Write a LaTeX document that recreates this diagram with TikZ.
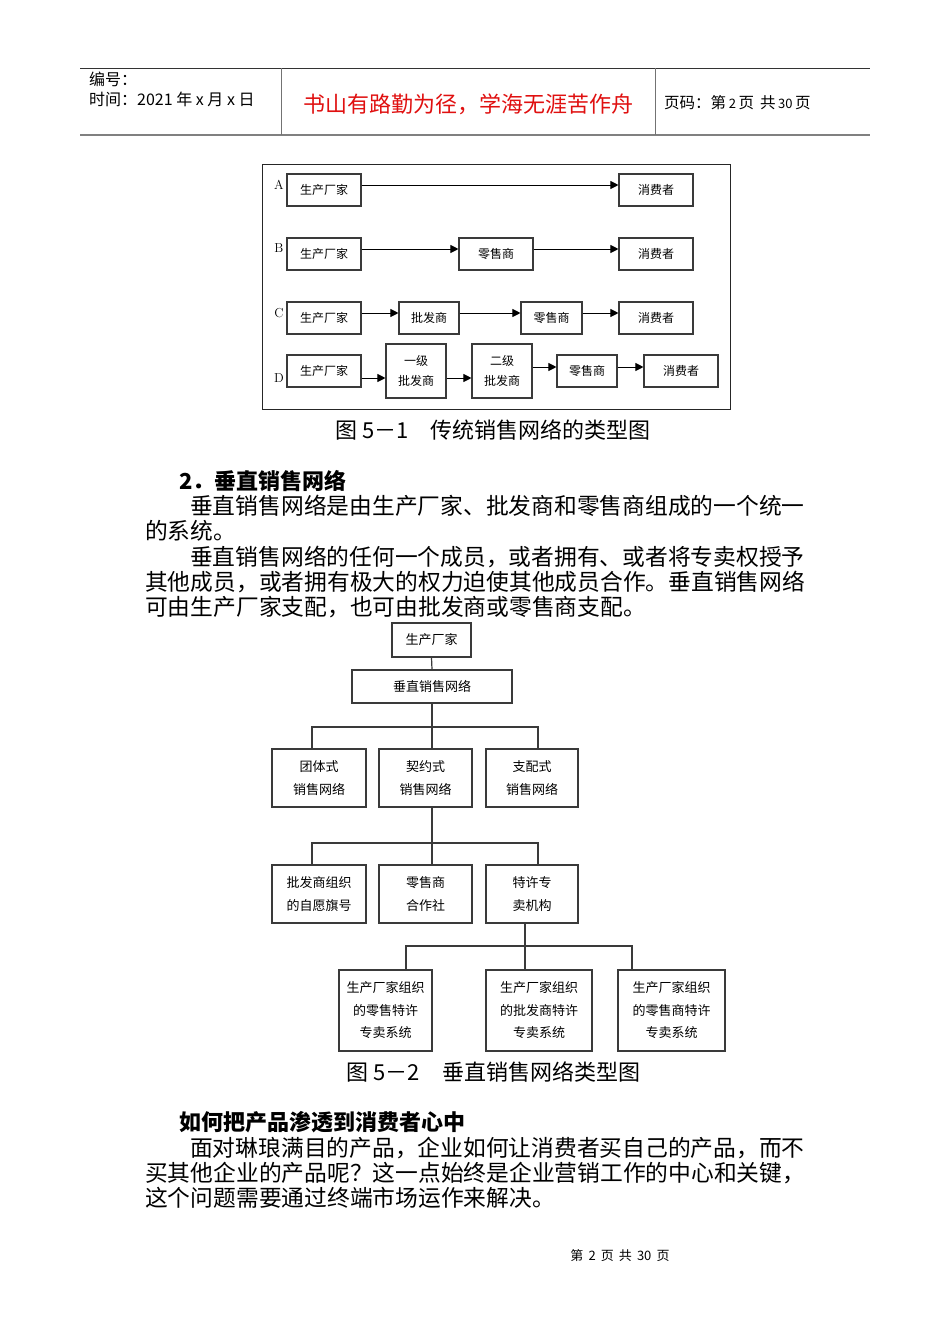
\documentclass[tikz,border=0pt]{standalone}
\usepackage{fontspec}
\newfontfamily\cjk{Noto Sans CJK SC}
\usetikzlibrary{arrows.meta}
\definecolor{boxline}{HTML}{3A3A3A}
\definecolor{hdrred}{HTML}{E01010}
\begin{document}
\begin{tikzpicture}[x=1pt,y=-1pt,
  bx/.style={draw=boxline, line width=1.1pt, fill=white, inner sep=0pt, align=center, font=\cjk\fontsize{12}{20}\selectfont},
  bxb/.style={draw=boxline, line width=1.1pt, fill=white, inner sep=0pt, align=center, font=\cjk\fontsize{13}{22.5}\selectfont},
  arr/.style={draw=black, line width=1pt, -{Triangle[length=8pt,width=8pt]}},
  ln/.style={draw=boxline, line width=1.2pt},
  body/.style={anchor=west, inner sep=0pt, font=\cjk\fontsize{22.76}{25}\selectfont},
  head/.style={anchor=west, inner sep=0pt, font=\cjk\bfseries\fontsize{22}{25}\selectfont},
  lbl/.style={inner sep=0pt, font=\fontsize{13}{13}\selectfont}
]
\useasboundingbox[fill=white] (0,0) rectangle (950,1344);

% ---------- header ----------
\draw[line width=1pt, black!80] (80,68) -- (870,68);
\draw[line width=2pt, black!50] (80,135) -- (870,135);
\draw[line width=1pt, black!55] (281,68) -- (281,135);
\draw[line width=1pt, black!55] (655,68) -- (655,135);
\node[anchor=west, inner sep=0pt, font=\cjk\fontsize{16}{16}\selectfont] (hno) at (89,79) {编号：};
\node[anchor=west, inner sep=0pt, font=\cjk\fontsize{16}{16}\selectfont] (htime) at (89,99) {时间：2021 年 x 月 x 日};
\node[inner sep=0pt, text=hdrred, font=\cjk\fontsize{22}{22}\selectfont] (hmotto) at (468,104) {书山有路勤为径，学海无涯苦作舟};
\node[anchor=west, inner sep=0pt, font=\cjk\fontsize{15.5}{16}\selectfont] (hpage) at (664,103) {页码：第\,{\fontsize{13}{13}\selectfont 2}\,页 \,共\,{\fontsize{13}{13}\selectfont 30}\,页};

% ---------- figure 5-1 ----------
\draw[line width=1pt, black!85] (262,164) rectangle (730,409);
\node[lbl] (lA) at (279,185) {A};
\node[lbl] (lB) at (279,248) {B};
\node[lbl] (lC) at (279,313) {C};
\node[lbl] (lD) at (279,378) {D};

\node[bx, minimum width=74pt, minimum height=32pt] (a1) at (324,190) {生产厂家};
\node[bx, minimum width=74pt, minimum height=32pt] (a2) at (656,190) {消费者};
\draw[arr] ([yshift=5pt]a1.east) -- ([yshift=5pt]a2.west);

\node[bx, minimum width=74pt, minimum height=32pt] (b1) at (324,254) {生产厂家};
\node[bx, minimum width=74pt, minimum height=32pt] (b2) at (496,254) {零售商};
\node[bx, minimum width=74pt, minimum height=32pt] (b3) at (656,254) {消费者};
\draw[arr] ([yshift=5pt]b1.east) -- ([yshift=5pt]b2.west);
\draw[arr] ([yshift=5pt]b2.east) -- ([yshift=5pt]b3.west);

\node[bx, minimum width=74pt, minimum height=32pt] (c1) at (324,318) {生产厂家};
\node[bx, minimum width=60pt, minimum height=32pt] (c2) at (429,318) {批发商};
\node[bx, minimum width=61pt, minimum height=32pt] (c3) at (551.5,318) {零售商};
\node[bx, minimum width=74pt, minimum height=32pt] (c4) at (656,318) {消费者};
\draw[arr] ([yshift=5pt]c1.east) -- ([yshift=5pt]c2.west);
\draw[arr] ([yshift=5pt]c2.east) -- ([yshift=5pt]c3.west);
\draw[arr] ([yshift=5pt]c3.east) -- ([yshift=5pt]c4.west);

\node[bx, minimum width=74pt, minimum height=32pt] (d1) at (324,371) {生产厂家};
\node[bx, minimum width=60pt, minimum height=54pt] (d2) at (416,371) {一级\\批发商};
\node[bx, minimum width=60pt, minimum height=54pt] (d3) at (502,371) {二级\\批发商};
\node[bx, minimum width=60pt, minimum height=32pt] (d4) at (587,371) {零售商};
\node[bx, minimum width=74pt, minimum height=32pt] (d5) at (681,371) {消费者};
\draw[arr] ([yshift=-7pt]d1.east) -- ([yshift=-7pt]d2.west);
\draw[arr] ([yshift=-7pt]d2.east) -- ([yshift=-7pt]d3.west);
\draw[arr] ([yshift=4pt]d3.east) -- ([yshift=4pt]d4.west);
\draw[arr] ([yshift=4pt]d4.east) -- ([yshift=4pt]d5.west);

\node[inner sep=0pt, font=\cjk\fontsize{22}{22}\selectfont] (cap1) at (493,430) {图 5－1\quad 传统销售网络的类型图};

% ---------- text 1 ----------
\node[head] (h2) at (179,481) {2．垂直销售网络};
\node[body] (p1) at (190,506) {垂直销售网络是由生产厂家、批发商和零售商组成的一个统一};
\node[body] (p2) at (145,531) {的系统。};
\node[body] (p3) at (190,557) {垂直销售网络的任何一个成员，或者拥有、或者将专卖权授予};
\node[body] (p4) at (145,582) {其他成员，或者拥有极大的权力迫使其他成员合作。垂直销售网络};
\node[body] (p5) at (145,607) {可由生产厂家支配，也可由批发商或零售商支配。};

% ---------- figure 5-2 ----------
\node[bxb, minimum width=79pt, minimum height=34pt] (f0) at (431.5,640) {生产厂家};
\node[bxb, minimum width=160pt, minimum height=33pt] (f1) at (432,686.5) {垂直销售网络};
\node[bxb, minimum width=94pt, minimum height=58pt] (t1) at (319,778) {团体式\\销售网络};
\node[bxb, minimum width=93pt, minimum height=58pt] (t2) at (425.5,778) {契约式\\销售网络};
\node[bxb, minimum width=92pt, minimum height=58pt] (t3) at (532,778) {支配式\\销售网络};
\node[bxb, minimum width=94pt, minimum height=58pt] (s1) at (319,894) {批发商组织\\的自愿旗号};
\node[bxb, minimum width=93pt, minimum height=58pt] (s2) at (425.5,894) {零售商\\合作社};
\node[bxb, minimum width=92pt, minimum height=58pt] (s3) at (532,894) {特许专\\卖机构};
\node[bxb, minimum width=93pt, minimum height=81pt] (u1) at (385.5,1010.5) {生产厂家组织\\的零售特许\\专卖系统};
\node[bxb, minimum width=106pt, minimum height=81pt] (u2) at (539,1010.5) {生产厂家组织\\的批发商特许\\专卖系统};
\node[bxb, minimum width=107pt, minimum height=81pt] (u3) at (671.5,1010.5) {生产厂家组织\\的零售商特许\\专卖系统};

\coordinate (k1l) at (312,727);
\coordinate (k1m) at (432,727);
\coordinate (k1r) at (538,727);
\coordinate (k2l) at (312,843);
\coordinate (k2m) at (432,843);
\coordinate (k2r) at (538,843);
\coordinate (k3l) at (406,946);
\coordinate (k3m) at (525,946);
\coordinate (k3r) at (632,946);

\draw[ln] (f0.south) -- (f1.north);
\draw[ln] (f1.south) -- (k1m |- t2.north);
\draw[ln] (k1l |- t1.north) -- (k1l) -- (k1r) -- (k1r |- t3.north);
\draw[ln] (k2m |- t2.south) -- (k2m |- s2.north);
\draw[ln] (k2l |- s1.north) -- (k2l) -- (k2r) -- (k2r |- s3.north);
\draw[ln] (k3m |- s3.south) -- (k3m |- u2.north);
\draw[ln] (k3l |- u1.north) -- (k3l) -- (k3r) -- (k3r |- u3.north);

\node[inner sep=0pt, font=\cjk\fontsize{22}{22}\selectfont] (cap2) at (493.5,1072) {图 5－2\quad 垂直销售网络类型图};

% ---------- text 2 ----------
\node[head] (h3) at (179,1122) {如何把产品渗透到消费者心中};
\node[body] (q1) at (190,1148) {面对琳琅满目的产品，企业如何让消费者买自己的产品，而不};
\node[body] (q2) at (145,1173) {买其他企业的产品呢？这一点始终是企业营销工作的中心和关键，};
\node[body] (q3) at (145,1198) {这个问题需要通过终端市场运作来解决。};

% ---------- footer ----------
\node[inner sep=0pt, font=\cjk\fontsize{13}{13}\selectfont] (foot) at (620,1256) {第 \,2\, 页 \,共\, 30\, 页};
\end{tikzpicture}
\end{document}
